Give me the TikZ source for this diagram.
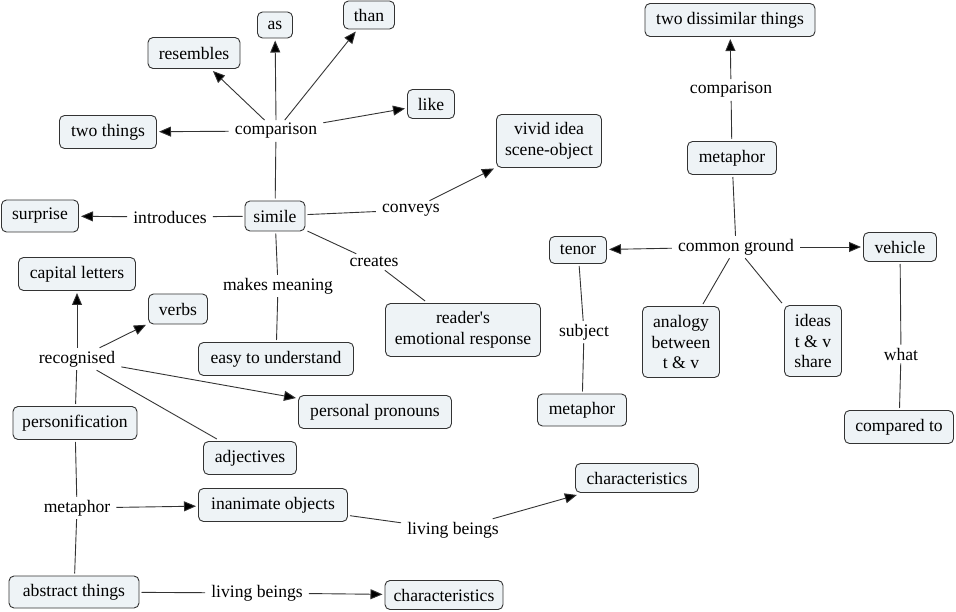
\documentclass[tikz,border=0pt]{standalone}
\usepackage{fontspec}
\setmainfont{Liberation Serif}
\usetikzlibrary{arrows.meta}
\definecolor{boxfill}{HTML}{EEF3F6}
\definecolor{boxline}{HTML}{333333}
\definecolor{conline}{HTML}{333333}
\begin{document}
\begin{tikzpicture}[x=1pt,y=-1pt,
  txt/.style={font=\fontsize{17.6}{20.5}\selectfont},
  box/.style={txt, draw=boxline, fill=boxfill, rounded corners=5pt, line width=0.9pt,
    inner xsep=8pt, inner ysep=4pt, minimum height=31pt, align=center, outer sep=2.5pt},
  lab/.style={txt, inner xsep=6pt, inner ysep=3pt, align=center},
  con/.style={draw=conline, line width=0.9pt},
  arr/.style={con, -{Triangle[length=12pt,width=10pt,fill=black]}}]
\useasboundingbox (0,0) rectangle (956,612);

% ---- simile cluster ----
\node[box, minimum width=92pt] (resembles) at (194,53) {resembles};
\node[box, minimum width=35pt, minimum height=26pt] (as) at (275,25) {as};
\node[box, minimum width=51pt, minimum height=28pt] (than) at (369,15) {than};
\node[box, minimum width=47pt, minimum height=29pt] (like) at (431,104) {like};
\node[box, minimum width=97pt, minimum height=33pt] (twothings) at (108,132) {two things};
\node[lab] (comp1) at (276,131) {comparison};
\node[box, minimum width=60pt, minimum height=30pt] (simile) at (275,216) {simile};
\node[box, minimum width=77pt, minimum height=32pt] (surprise) at (40,216) {surprise};
\node[lab] (introduces) at (170,217) {introduces};
\node[lab] (conveys) at (411,210) {conveys};
\node[box, minimum width=105pt, minimum height=53pt] (vivid) at (549,141) {vivid idea\\scene-object};
\node[lab] (creates) at (374,262) {creates};
\node[lab] (makes) at (278,286) {makes meaning};
\node[box, minimum width=155pt, minimum height=33pt] (easy) at (276,359) {easy to understand};
\node[box, minimum width=155pt, minimum height=53pt] (reader) at (463,330) {reader\textquotesingle s\\emotional response};

% ---- personification cluster ----
\node[box, minimum width=117pt, minimum height=33pt] (capital) at (77,274) {capital letters};
\node[box, minimum width=59pt, minimum height=30pt] (verbs) at (178,309) {verbs};
\node[lab] (recognised) at (77,359) {recognised};
\node[box, minimum width=124pt, minimum height=33pt] (personif) at (75,423) {personification};
\node[box, minimum width=153pt, minimum height=33pt] (pronouns) at (375,412) {personal pronouns};
\node[box, minimum width=93pt, minimum height=33pt] (adjectives) at (250,458) {adjectives};
\node[lab] (metaL) at (77,508) {metaphor};
\node[box, minimum width=149pt, minimum height=33pt] (inanimate) at (273,505) {inanimate objects};
\node[lab] (living1) at (453,530) {living beings};
\node[box, minimum width=123pt, minimum height=29pt] (charUp) at (637,478) {characteristics};
\node[box, minimum width=130pt, minimum height=32pt] (abstract) at (74,592) {abstract things};
\node[lab] (living2) at (257,593) {living beings};
\node[box, minimum width=118pt, minimum height=29pt] (charLow) at (444,595) {characteristics};

% ---- metaphor cluster ----
\node[box, minimum width=170pt, minimum height=33pt] (dissimilar) at (730,20) {two dissimilar things};
\node[lab] (comp2) at (731,90) {comparison};
\node[box, minimum width=89pt, minimum height=33pt] (metaTop) at (732,158) {metaphor};
\node[lab] (common) at (736,247) {common ground};
\node[box, minimum width=57pt, minimum height=27pt] (tenor) at (578,250) {tenor};
\node[box, minimum width=73pt, minimum height=29pt] (vehicle) at (900,247) {vehicle};
\node[box, minimum width=77pt, minimum height=71pt] (analogy) at (681,342) {analogy\\between\\t \& v};
\node[box, minimum width=57pt, minimum height=71pt] (ideas) at (813,341) {ideas\\t \& v\\share};
\node[lab] (subject) at (584,332) {subject};
\node[box, minimum width=89pt, minimum height=32pt] (metaMid) at (582,410) {metaphor};
\node[lab] (what) at (901,354) {what};
\node[box, minimum width=109pt, minimum height=33pt] (compared) at (899,427) {compared to};

% ---- connectors ----
\draw[con] (simile) -- (comp1);
\draw[arr] (comp1) -- (twothings);
\draw[arr] (comp1) -- (resembles);
\draw[arr] (comp1.north) -- (as);
\draw[arr] (comp1) -- (than);
\draw[arr] (comp1) -- (like);
\draw[con] (simile) -- (introduces);
\draw[arr] (introduces) -- (surprise);
\draw[con] (simile) -- (conveys);
\draw[arr] (conveys) -- (vivid);
\draw[con] (simile) -- (creates);
\draw[con] (creates) -- (reader);
\draw[con] (simile) -- (makes);
\draw[con] (makes) -- (easy);

\draw[con] (personif) -- (recognised);
\draw[arr] (recognised) -- (capital);
\draw[arr] (recognised) -- (verbs);
\draw[arr] (recognised) -- (pronouns);
\draw[con] (recognised) -- (adjectives);
\draw[con] (personif) -- (metaL);
\draw[con] (metaL) -- (abstract);
\draw[arr] (metaL) -- (inanimate);
\draw[con] (inanimate) -- (living1);
\draw[arr] (living1) -- (charUp);
\draw[con] (abstract) -- (living2);
\draw[arr] (living2) -- (charLow);

\draw[con] (metaTop) -- (comp2);
\draw[arr] (comp2) -- (dissimilar);
\draw[con] (metaTop) -- (common);
\draw[arr] (common) -- (tenor);
\draw[arr] (common) -- (vehicle);
\draw[con] (common) -- (analogy);
\draw[con] (common) -- (ideas);
\draw[con] (tenor) -- (subject);
\draw[con] (subject) -- (metaMid);
\draw[con] (vehicle) -- (what);
\draw[con] (what) -- (compared);
\end{tikzpicture}
\end{document}
